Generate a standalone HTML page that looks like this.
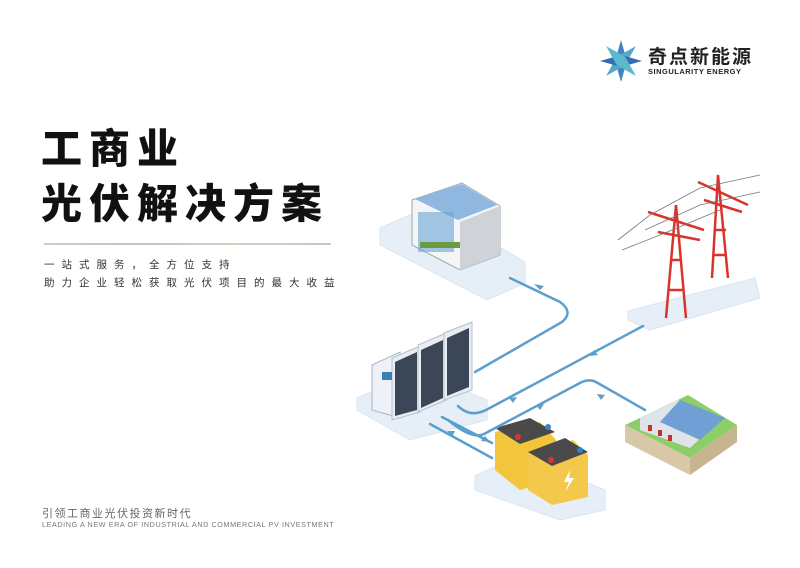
<!DOCTYPE html>
<html><head><meta charset="utf-8"><style>
body{margin:0;width:800px;height:568px;background:#fff;overflow:hidden;position:relative;font-family:"Liberation Sans","Noto Sans CJK SC",sans-serif}
.t{position:absolute;left:41px;font-weight:900;font-size:41px;color:#111;letter-spacing:7px;line-height:1}
.s{position:absolute;left:44px;font-size:10.5px;color:#333;letter-spacing:7px}
</style></head><body>
<div class="t" style="top:129px">工商业</div>
<div class="t" style="top:184px">光伏解决方案</div>
<div style="position:absolute;left:44px;top:243px;width:287px;height:2px;background:linear-gradient(90deg,#ccc,#b9c7c9,#d9cfc0,#c9c3cf)"></div>
<div class="s" style="top:257px">一站式服务，全方位支持</div>
<div class="s" style="top:275px">助力企业轻松获取光伏项目的最大收益</div>
<div style="position:absolute;left:42px;top:505px;font-size:11px;color:#666;letter-spacing:1.5px">引领工商业光伏投资新时代</div>
<div style="position:absolute;left:42px;top:520px;font-size:7.2px;color:#777;letter-spacing:.6px">LEADING A NEW ERA OF INDUSTRIAL AND COMMERCIAL PV INVESTMENT</div>
<svg style="position:absolute;left:598px;top:38px" width="46" height="46" viewBox="-23 -23 46 46">
<g fill="#2e78b8" opacity=".9"><path d="M0-21L6 0L0 21L-6 0Z"/><path d="M0-21L6 0L0 21L-6 0Z" transform="rotate(45)" fill="#3fa0c8"/><path d="M0-21L6 0L0 21L-6 0Z" transform="rotate(90)" fill="#1f5fa8"/><path d="M0-21L6 0L0 21L-6 0Z" transform="rotate(135)" fill="#4ab2c6"/></g></svg>
<div style="position:absolute;left:648px;top:42px;font-size:19px;font-weight:bold;color:#222;letter-spacing:2px">奇点新能源</div>
<div style="position:absolute;left:648px;top:67px;font-size:7.5px;font-weight:bold;color:#222;letter-spacing:.5px">SINGULARITY ENERGY</div>
<svg style="position:absolute;left:0;top:0" width="800" height="568">
<g fill="#e6eef8" stroke="#dbe5f1">
<path d="M380 228L430 206L525 262L525 283L487 300L380 245Z"/>
<path d="M628 311L755 278L760 298L650 330L628 320Z"/>
<path d="M357 398L420 372L487 400L487 420L410 440L357 410Z"/>
<path d="M475 476L520 455L605 490L605 510L560 520L475 490Z"/>
</g>
<path d="M412 200L462 183L500 206L500 255L460 270L412 245Z" fill="#f4f5f7" stroke="#9aa"/>
<path d="M460 222L500 206L500 255L460 270Z" fill="#cfd3d8"/>
<path d="M415 199L462 184L497 205L458 220Z" fill="#8fb7e0"/>
<g fill="#6aa4d6"><rect x="418" y="212" width="36" height="40" opacity=".6"/></g>
<rect x="420" y="242" width="40" height="6" fill="#6b9b42"/>
<g stroke="#d9342b" stroke-width="2.5" fill="none">
<path d="M666 318L676 205L686 318M670 260L682 260M668 290L684 290M648 212L704 230M658 232L700 240"/>
<path d="M712 278L718 175L728 278M714 230L726 230M713 255L727 255M698 182L748 205M704 200L742 212"/>
</g>
<g stroke="#777" stroke-width=".8" fill="none"><path d="M618 240L650 215L700 188L760 175M622 250L660 235L720 210M645 230L700 205L760 192"/></g>
<path d="M372 365L400 352L400 418L372 410Z" fill="#eef2f7" stroke="#a8b6c8"/>
<g fill="#e8edf3" stroke="#b5c0cc"><path d="M392 358L420 346L420 412L392 420Z"/><path d="M418 345L446 333L446 400L418 412Z"/><path d="M444 333L472 322L472 390L444 400Z"/></g>
<g fill="#3b4657"><path d="M395 362L417 352L417 410L395 416Z"/><path d="M421 350L443 340L443 398L421 408Z"/><path d="M447 338L469 328L469 387L447 396Z"/></g>
<rect x="382" y="372" width="10" height="8" fill="#3b7fb3"/>
<path d="M495 432L540 422L556 440L556 480L520 490L495 470Z" fill="#f2c53d"/>
<path d="M495 428L530 418L555 432L520 444Z" fill="#4a4a4a"/>
<path d="M528 455L573 440L588 455L588 497L552 505L528 490Z" fill="#f4c84a"/>
<path d="M528 452L565 438L588 452L552 466Z" fill="#4a4a4a"/>
<circle cx="518" cy="437" r="3" fill="#d33"/><circle cx="548" cy="427" r="3" fill="#3680d0"/>
<circle cx="551" cy="460" r="3" fill="#d33"/><circle cx="580" cy="450" r="3" fill="#3680d0"/>
<path d="M570 470L564 482L569 482L565 492L574 478L569 478Z" fill="#fff"/>
<path d="M625 425L688 395L737 425L690 458Z" fill="#8ccf6a"/>
<path d="M625 425L690 458L690 475L625 442Z" fill="#d9c8a8"/><path d="M690 458L737 425L737 442L690 475Z" fill="#c7b590"/>
<path d="M640 418L678 400L720 420L690 448L640 430Z" fill="#dfe4ea"/>
<path d="M680 400L725 418L700 440L660 422Z" fill="#6f9fd4"/>
<g fill="#c3332b"><rect x="648" y="425" width="4" height="6"/><rect x="658" y="430" width="4" height="6"/><rect x="668" y="435" width="4" height="6"/></g>
<g stroke="#5b9fcf" stroke-width="2.5" fill="none" stroke-linecap="round">
<path d="M510 278L560 302Q574 312 562 322L475 372"/>
<path d="M458 406Q470 418 486 410L643 326"/>
<path d="M645 410L596 382Q588 378 578 384L484 434Q472 440 448 420"/>
<path d="M442 417L492 443"/>
<path d="M492 458L430 424"/>
</g>
<g fill="#5b9fcf">
<path d="M540 290l-6 -6l10 2z"/><path d="M598 355l-8 1l4 -6z"/><path d="M509 398l8 -1l-4 6z"/>
<path d="M536 405l8 -1l-4 6z"/><path d="M605 395l-8 -1l4 6z"/><path d="M490 442l-9 -1l4 -5z"/><path d="M447 431l8 0l-3 6z"/>
</g>
</svg>
</body></html>
